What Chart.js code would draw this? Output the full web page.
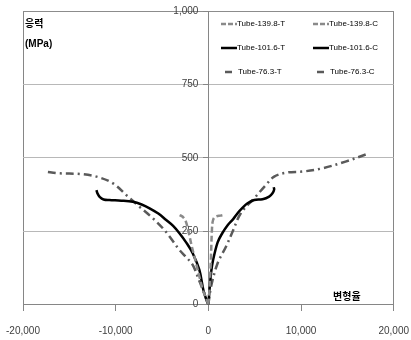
<!DOCTYPE html>
<html>
<head>
<meta charset="utf-8">
<script src="https://cdn.jsdelivr.net/npm/chart.js@4.4.0/dist/chart.umd.min.js"></script>
<style>
html,body{margin:0;padding:0;background:#fff;}
canvas{display:block;}
</style>
</head>
<body>
<canvas id="c" width="411" height="340"></canvas>
<script>
// ---- data (strain, stress) ----
const seriesNames = ["Tube-139.8-T","Tube-139.8-C","Tube-101.6-T","Tube-101.6-C","Tube-76.3-T","Tube-76.3-C"];
const xTicks = [-20000,-10000,0,10000,20000];
const yTicks = [0,250,500,750,1000];

const t1398T_x = [0, 100, 200, 280, 330, 380, 450, 600, 900, 1300, 1750];
const t1398T_y = [0, 40, 100, 160, 210, 250, 280, 295, 301, 303, 306];
const t1398C_x = [0, -300, -600, -1000, -1400, -1800, -2150, -2450, -2800, -3100];
const t1398C_y = [0, 25, 50, 100, 150, 200, 250, 285, 300, 305];

const t1016T_x = [0, 100, 300, 500, 1000, 1500, 2100, 2700, 3150, 3700, 4230, 4950, 5840, 6560, 6920, 7100, 7050];
const t1016T_y = [0, 40, 110, 150, 212, 243, 271, 292, 311, 330, 345, 356, 359, 368, 379, 392, 400];
const t1016C_x = [0, -250, -540, -970, -1690, -2400, -3120, -3800, -4550, -5400, -6340, -7200, -8140, -9400, -10680, -11300, -11700, -11950, -12075];
const t1016C_y = [0, 20, 50, 118, 175, 212, 243, 268, 288, 310, 328, 341, 350, 354, 356, 358, 366, 378, 390];

const t763T_x = [0, 290, 1000, 1900, 2610, 3500, 4950, 6200, 7100, 8530, 10140, 12290, 14800, 17130];
const t763T_y = [0, 61, 141, 197, 248, 311, 362, 407, 436, 450, 453, 464, 487, 513];
const t763C_x = [0, -430, -970, -1690, -2500, -3120, -4190, -4910, -5990, -7420, -8850, -10290, -12075, -13870, -16020, -17630];
const t763C_y = [0, 38, 80, 135, 165, 186, 232, 260, 294, 333, 373, 413, 436, 445, 447, 453];

function pts(xs, ys){ return xs.map((x,i)=>({x:x, y:ys[i]})); }

const styleDash = {borderColor:'#8a8a8a', borderDash:[6,3], borderWidth:2.5};
const styleSolid = {borderColor:'#000000', borderDash:[], borderWidth:2.5};
const styleDashDot = {borderColor:'#5a5a5a', borderDash:[8,4,2,4], borderWidth:2.5};

const raw = [
  [t1398T_x,t1398T_y,styleDash],
  [t1398C_x,t1398C_y,styleDash],
  [t1016T_x,t1016T_y,styleSolid],
  [t1016C_x,t1016C_y,styleSolid],
  [t763T_x,t763T_y,styleDashDot],
  [t763C_x,t763C_y,styleDashDot]
];

const datasets = raw.map((r,i)=>Object.assign({
  label: seriesNames[i],
  data: pts(r[0], r[1]),
  showLine: true,
  pointRadius: 0,
  tension: 0.35,
  fill: false
}, r[2]));

const overlay = {
  id:'overlay',
  afterDraw(chart){
    const c = chart.ctx;
    c.save();
    // axis titles
    c.fillStyle = '#000';
    c.textBaseline = 'middle';
    c.textAlign = 'left';
    c.font = 'bold 10px "Noto Sans CJK KR"';
    c.fillText('응력', 25, 23);
    c.font = 'bold 10px "Liberation Sans"';
    c.fillText('(MPa)', 25, 44);
    c.font = 'bold 10px "Noto Sans CJK KR"';
    c.fillText('변형율', 333, 296);
    // legend
    const cols = [221, 313];
    const rows = [24, 48, 72];
    c.font = '8px "Liberation Sans"';
    c.fillStyle = '#000';
    datasets.forEach((d,i)=>{
      const col = cols[i%2], row = rows[Math.floor(i/2)];
      c.strokeStyle = d.borderColor;
      c.lineWidth = d.borderWidth;
      c.beginPath();
      if (i < 2) {
        c.setLineDash([5,2]);
        c.moveTo(col, row); c.lineTo(col+16, row);
      } else if (i < 4) {
        c.setLineDash([]);
        c.moveTo(col, row); c.lineTo(col+16, row);
      } else {
        c.setLineDash([]);
        c.moveTo(col+4, row); c.lineTo(col+11, row);
      }
      c.stroke();
      c.setLineDash([]);
      c.fillText(d.label, col + (i<4 ? 16 : 17), row);
    });
    c.restore();
  }
};

new Chart(document.getElementById('c'), {
  type:'scatter',
  data:{datasets:datasets},
  options:{
    responsive:false,
    animation:false,
    layout:{padding:{left:23, right:15, top:11, bottom:0.4}},
    plugins:{legend:{display:false}, tooltip:{enabled:false}},
    scales:{
      x:{
        type:'linear', min:-20000, max:20000, position:'bottom',
        afterBuildTicks(axis){ axis.ticks = xTicks.map(v=>({value:v})); },
        ticks:{padding:2, color:'#404040', maxRotation:0, font:{size:10, family:'"Liberation Sans"'},
          callback:v=>v.toLocaleString('en-US')},
        grid:{color:c=>(c.tick && Math.abs(c.tick.value)===20000)?'#868686':'rgba(0,0,0,0)',
          tickColor:'#868686', tickLength:19, tickBorderDash:[6,40], lineWidth:1},
        border:{color:'#868686', width:1}
      },
      y:{
        type:'linear', min:0, max:1000, position:{x:0},
        afterBuildTicks(axis){ axis.ticks = yTicks.map(v=>({value:v})); },
        ticks:{padding:0, color:'#404040', font:{size:10, family:'"Liberation Sans"'},
          callback:v=>v.toLocaleString('en-US') + '\u2002\u2002'},
        grid:{color:c=>(c.tick && c.tick.value===0)?'rgba(0,0,0,0)':(c.tick && c.tick.value===1000?'#8c8c8c':'#b8b8b8'),
          tickColor:'#868686', tickLength:5, lineWidth:1},
        border:{color:'#868686', width:1}
      }
    }
  },
  plugins:[overlay]
});
</script>
</body>
</html>
